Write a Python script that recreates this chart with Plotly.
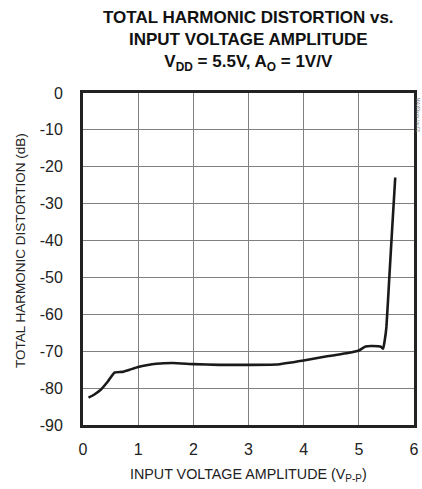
import plotly.graph_objects as go

# Data
amplitude_vpp = [0.10, 0.20, 0.31, 0.45, 0.57, 0.72, 0.85, 1.00, 1.15, 1.33, 1.63, 2.00, 2.47, 3.00, 3.50,
                 4.00, 4.45, 4.80, 5.00, 5.12, 5.25, 5.40, 5.44, 5.47, 5.50, 5.55, 5.61, 5.66]
thd_db = [-82.6, -81.8, -80.6, -78.2, -75.8, -75.6, -75.0, -74.3, -73.8, -73.4, -73.2, -73.5, -73.7, -73.7, -73.6,
          -72.5, -71.3, -70.5, -69.8, -68.7, -68.6, -68.8, -69.3, -67.0, -63.4, -50.7, -35.3, -22.9]

x_ticks = [0, 1, 2, 3, 4, 5, 6]
y_ticks = [0, -10, -20, -30, -40, -50, -60, -70, -80, -90]
x_labels = [str(v) for v in x_ticks]
y_labels = [str(v) for v in y_ticks]

FONT = "Liberation Sans, Arial, sans-serif"

fig = go.Figure()
fig.add_trace(go.Scatter(
    x=amplitude_vpp, y=thd_db, mode="lines",
    line=dict(color="#1a1a1a", width=2.6, shape="spline", smoothing=0.4),
    showlegend=False, hoverinfo="skip",
))

axis_common = dict(
    ticks="outside", tickcolor="rgba(0,0,0,0)", showgrid=True, gridcolor="#808080", gridwidth=1,
    zeroline=False, showline=True, linecolor="#222", linewidth=3, mirror=True, automargin=False,
    tickfont=dict(family=FONT, size=16, color="#222"),
)

fig.update_layout(
    width=422, height=489,
    margin=dict(l=83, r=8, t=93, b=64),
    paper_bgcolor="white", plot_bgcolor="white",
    font=dict(family=FONT, size=15, color="#222"),
    xaxis=dict(range=[0, 6], tickvals=x_ticks, ticktext=x_labels, ticklen=8, **axis_common),
    yaxis=dict(range=[-90, 0], tickvals=y_ticks, ticktext=y_labels, ticklen=14, **axis_common),
)

# Title
fig.add_annotation(
    text="<b>TOTAL HARMONIC DISTORTION vs.<br>INPUT VOLTAGE AMPLITUDE<br>V<sub>DD</sub> = 5.5V, A<sub>O</sub> = 1V/V</b>",
    xref="paper", yref="paper", x=0.5, y=1, xanchor="center", yanchor="bottom", yshift=17,
    showarrow=False, align="center",
    font=dict(family=FONT, size=17, color="#111"),
)
# Axis titles
fig.add_annotation(
    text="INPUT VOLTAGE AMPLITUDE (V<sub>P-P</sub>)",
    xref="paper", yref="paper", x=0.5, y=0, xanchor="center", yanchor="middle", yshift=-50,
    showarrow=False, font=dict(family=FONT, size=14.3, color="#222"),
)
fig.add_annotation(
    text="TOTAL HARMONIC DISTORTION (dB)",
    xref="paper", yref="paper", x=0, y=0.5, xanchor="center", yanchor="middle", xshift=-63, yshift=8,
    textangle=-90, showarrow=False, font=dict(family=FONT, size=13.5, color="#222"),
)
# Chart id
fig.add_annotation(
    text="MAX9xxx toc01", xref="paper", yref="paper", x=1.0, y=1.0,
    xanchor="center", yanchor="top", xshift=4, yshift=-2, showarrow=False, textangle=90,
    font=dict(family=FONT, size=5, color="#777"),
)

fig.write_html("out.html", config={"displayModeBar": False},
               post_script="document.body.style.margin='0';")
